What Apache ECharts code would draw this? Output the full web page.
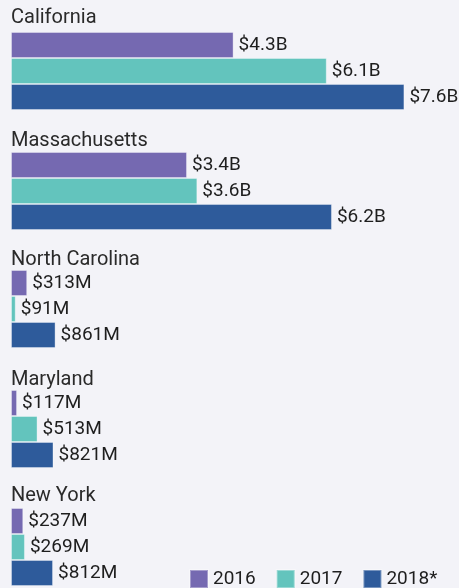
<!DOCTYPE html>
<html>
<head>
<meta charset="utf-8">
<script src="https://cdn.jsdelivr.net/npm/echarts@6/dist/echarts.min.js"></script>
<style>
	html, body { margin: 0; padding: 0; background: #f3f3f8; }
	#chart { width: 459px; height: 588px; }
</style>
</head>
<body>
<div id="chart"></div>
<script>
// values in billions of dollars
var states = ["California", "Massachusetts", "North Carolina", "Maryland", "New York"];
var years = ["2016", "2017", "2018*"];
var v2016 = [4.3, 3.4, 0.313, 0.117, 0.237];
var v2017 = [6.1, 3.6, 0.091, 0.513, 0.269];
var v2018 = [7.6, 6.2, 0.861, 0.821, 0.812];
var colors = ["#7569b1", "#63c4bd", "#2e5b9b"];

var gridTops = [32, 152, 270, 390, 508];
var titleTops = [8, 131, 250, 370, 486];

var chartDiv = document.getElementById("chart");
var chart = echarts.init(chartDiv);

function money(v) {
	if (v >= 1) {
		return "$" + v.toFixed(1) + "B";
	}
	return "$" + Math.round(v * 1000) + "M";
}

var grids = [];
var xAxes = [];
var yAxes = [];
var titles = [];
var series = [];
var allValues = [v2016, v2017, v2018];

for (var i = 0; i < states.length; i++) {
	grids.push({ left: 11, top: gridTops[i], width: 440, height: 78 });
	xAxes.push({ type: "value", gridIndex: i, min: 0, max: 8.5, show: false });
	yAxes.push({ type: "category", gridIndex: i, data: years, inverse: true, show: false });
	titles.push({
		text: states[i],
		left: 11,
		top: titleTops[i],
		padding: 0,
		textStyle: { fontFamily: "Roboto", fontSize: 20, fontWeight: "normal", color: "#2a2a2a" },
	});
	for (var j = 0; j < years.length; j++) {
		var d = ["-", "-", "-"];
		d[j] = allValues[j][i];
		series.push({
			name: years[j],
			type: "bar",
			xAxisIndex: i,
			yAxisIndex: i,
			stack: "g" + i,
			barCategoryGap: "0%",
			data: d,
			itemStyle: {
				color: colors[j],
				borderColor: "rgba(255,255,255,0.35)",
				borderWidth: 1,
			},
			label: {
				show: true,
				position: "right",
				distance: 5,
				fontFamily: "Roboto",
				fontSize: 19,
				color: "#1e1e1e",
				formatter: function (p) {
					return money(p.value);
				},
			},
			silent: true,
		});
	}
}

chart.setOption({
	backgroundColor: "#f3f3f8",
	animation: false,
	title: titles,
	grid: grids,
	xAxis: xAxes,
	yAxis: yAxes,
	legend: {
		data: years,
		left: 189,
		top: 569,
		width: 270,
		padding: 0,
		icon: "rect",
		itemWidth: 18,
		itemHeight: 18,
		itemGap: 20,
		textStyle: { fontFamily: "Roboto", fontSize: 19, color: "#1e1e1e" },
	},
	series: series,
});
</script>
</body>
</html>
